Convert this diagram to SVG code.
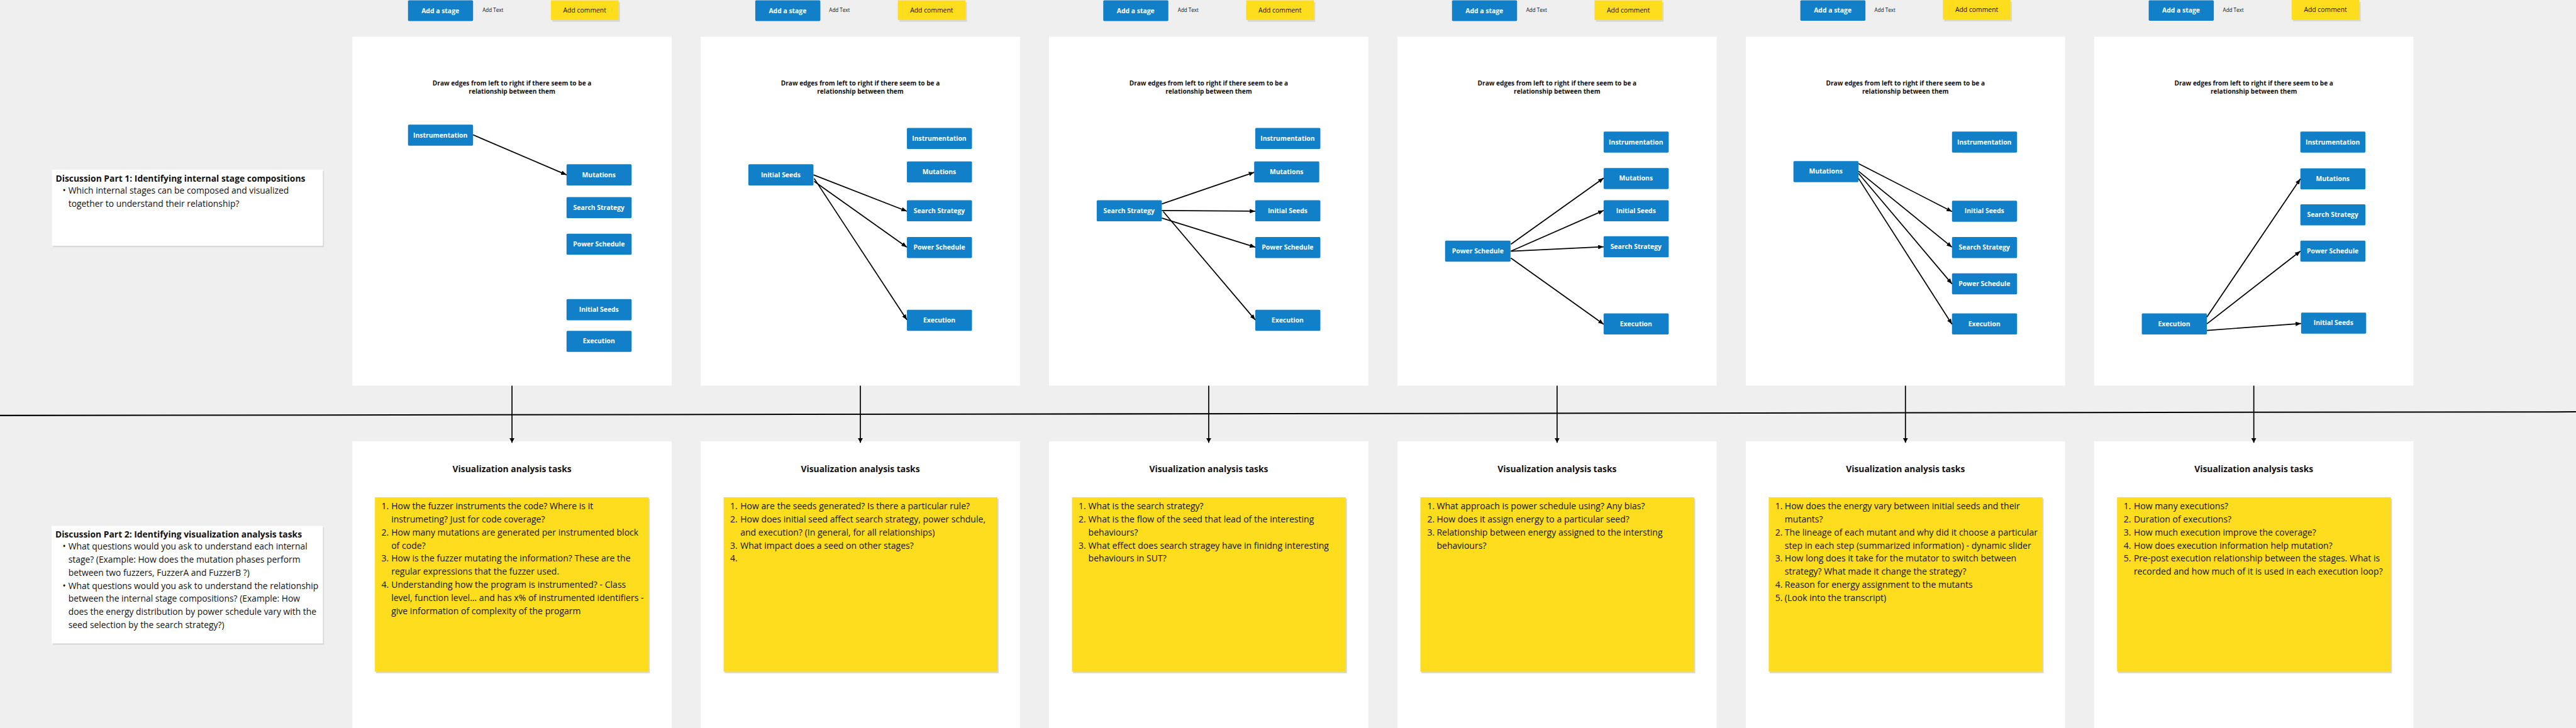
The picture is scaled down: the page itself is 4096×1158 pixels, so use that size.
<svg xmlns="http://www.w3.org/2000/svg" width="4096" height="1158" viewBox="0 0 4096 1158">
<defs>
<style>
text{font-family:'Open Sans','Noto Sans',sans-serif;fill:#111}
.bg{fill:#efefef}
.panel{fill:#ffffff}
.node rect,.btn{fill:#1180c9}
.node text,.btnt{fill:#fff;font-weight:700;font-size:18px;text-anchor:middle}
.cmt{fill:#fedd1f}
.shd{fill:#d8d8d8}
.cmtt{font-size:18px;text-anchor:middle}
.addt{font-size:14px}
.hint{font-size:17.5px;font-weight:700;text-anchor:middle}
.vt{font-size:24px;font-weight:700;text-anchor:middle}
.body{font-size:24px}
.sb{font-size:24.3px}
.dtitle{font-size:24px;font-weight:700}
.sticky{fill:#fedd1f}
.card{fill:#ffffff}
.edge{stroke:#000;stroke-width:3;fill:none;marker-end:url(#ah)}
.down{stroke:#000;stroke-width:3;fill:none;marker-end:url(#ahd)}
</style>
<marker id="ah" markerUnits="userSpaceOnUse" markerWidth="16" markerHeight="12" refX="15" refY="6" orient="auto"><path d="M0,0 L15,6 L0,12 z" fill="#000"/></marker>
<marker id="ahd" markerUnits="userSpaceOnUse" markerWidth="14" markerHeight="14" refX="13" refY="7" orient="auto"><path d="M0,0 L13,7 L0,14 z" fill="#000"/></marker>
</defs>
<rect class="bg" x="0" y="0" width="4096" height="1158"/>
<g transform="scale(0.5782)">

<!-- discussion cards -->
<g id="discussion1">
<rect class="shd" x="146" y="471" width="745" height="209"/>
<rect class="card" x="143" y="467" width="745" height="209"/>
<text class="dtitle" x="153" y="499">Discussion Part 1: Identifying internal stage compositions</text>
<text class="body"><tspan x="172" y="533">•</tspan><tspan x="188" y="533">Which internal stages can be composed and visualized</tspan><tspan x="188" y="569">together to understand their relationship?</tspan></text>
</g>
<g id="discussion2">
<rect class="shd" x="145" y="1451" width="746" height="323"/>
<rect class="card" x="142" y="1447" width="746" height="323"/>
<text class="dtitle" x="152" y="1478">Discussion Part 2: Identifying visualization analysis tasks</text>
<text class="body"><tspan x="172" y="1512">•</tspan><tspan x="188" y="1512">What questions would you ask to understand each internal</tspan><tspan x="188" y="1548">stage? (Example: How does the mutation phases perform</tspan><tspan x="188" y="1584">between two fuzzers, FuzzerA and FuzzerB ?)</tspan><tspan x="172" y="1620">•</tspan><tspan x="188" y="1620">What questions would you ask to understand the relationship</tspan><tspan x="188" y="1656">between the internal stage compositions? (Example: How</tspan><tspan x="188" y="1692">does the energy distribution by power schedule vary with the</tspan><tspan x="188" y="1728">seed selection by the search strategy?)</tspan></text>
</g>

<!-- panels -->
<g id="panels">
<rect class="panel" x="969" y="101" width="878" height="960"/>
<rect class="panel" x="1927" y="101" width="878" height="960"/>
<rect class="panel" x="2885" y="101" width="878" height="960"/>
<rect class="panel" x="3843" y="101" width="878" height="960"/>
<rect class="panel" x="4801" y="101" width="878" height="960"/>
<rect class="panel" x="5759" y="101" width="878" height="960"/>
<rect class="panel" x="969" y="1214" width="878" height="800"/>
<rect class="panel" x="1927" y="1214" width="878" height="800"/>
<rect class="panel" x="2885" y="1214" width="878" height="800"/>
<rect class="panel" x="3843" y="1214" width="878" height="800"/>
<rect class="panel" x="4801" y="1214" width="878" height="800"/>
<rect class="panel" x="5759" y="1214" width="878" height="800"/>
</g>

<!-- toolbar buttons -->
<g id="toolbar">
<g id="tb1"><rect class="btn" x="1122" y="1" width="179" height="57" rx="3"/><text class="btnt" x="1211" y="36">Add a stage</text><text class="addt" x="1327" y="33">Add Text</text><rect class="shd" x="1519" y="6" width="186" height="54"/><rect class="cmt" x="1515" y="1" width="186" height="54"/><text class="cmtt" x="1608" y="34">Add comment</text></g>
<g id="tb2"><rect class="btn" x="2077" y="1" width="179" height="57" rx="3"/><text class="btnt" x="2166" y="36">Add a stage</text><text class="addt" x="2280" y="33">Add Text</text><rect class="shd" x="2473" y="6" width="186" height="54"/><rect class="cmt" x="2469" y="1" width="186" height="54"/><text class="cmtt" x="2562" y="34">Add comment</text></g>
<g id="tb3"><rect class="btn" x="3034" y="1" width="179" height="57" rx="3"/><text class="btnt" x="3123" y="36">Add a stage</text><text class="addt" x="3239" y="33">Add Text</text><rect class="shd" x="3431" y="6" width="186" height="54"/><rect class="cmt" x="3427" y="1" width="186" height="54"/><text class="cmtt" x="3520" y="34">Add comment</text></g>
<g id="tb4"><rect class="btn" x="3993" y="1" width="179" height="57" rx="3"/><text class="btnt" x="4082" y="36">Add a stage</text><text class="addt" x="4197" y="33">Add Text</text><rect class="shd" x="4389" y="6" width="186" height="54"/><rect class="cmt" x="4385" y="1" width="186" height="54"/><text class="cmtt" x="4478" y="34">Add comment</text></g>
<g id="tb5"><rect class="btn" x="4951" y="1" width="179" height="56" rx="3"/><text class="btnt" x="5040" y="35">Add a stage</text><text class="addt" x="5155" y="32">Add Text</text><rect class="shd" x="5347" y="5" width="186" height="54"/><rect class="cmt" x="5343" y="0" width="186" height="54"/><text class="cmtt" x="5436" y="33">Add comment</text></g>
<g id="tb6"><rect class="btn" x="5909" y="1" width="179" height="56" rx="3"/><text class="btnt" x="5998" y="35">Add a stage</text><text class="addt" x="6113" y="32">Add Text</text><rect class="shd" x="6306" y="5" width="186" height="54"/><rect class="cmt" x="6302" y="0" width="186" height="54"/><text class="cmtt" x="6395" y="33">Add comment</text></g>
</g>

<!-- hints -->
<g id="hints">
<text class="hint" x="1408" y="235">Draw edges from left to right if there seem to be a<tspan x="1408" y="258">relationship between them</tspan></text>
<text class="hint" x="2366" y="235">Draw edges from left to right if there seem to be a<tspan x="2366" y="258">relationship between them</tspan></text>
<text class="hint" x="3324" y="235">Draw edges from left to right if there seem to be a<tspan x="3324" y="258">relationship between them</tspan></text>
<text class="hint" x="4282" y="235">Draw edges from left to right if there seem to be a<tspan x="4282" y="258">relationship between them</tspan></text>
<text class="hint" x="5240" y="235">Draw edges from left to right if there seem to be a<tspan x="5240" y="258">relationship between them</tspan></text>
<text class="hint" x="6198" y="235">Draw edges from left to right if there seem to be a<tspan x="6198" y="258">relationship between them</tspan></text>
</g>

<!-- panel 1 nodes -->
<g id="p1-instrumentation" class="node"><rect x="1122" y="343" width="179" height="58" rx="3"/><text x="1211" y="378">Instrumentation</text></g>
<g id="p1-mutations" class="node"><rect x="1558" y="452" width="179" height="58" rx="3"/><text x="1647" y="487">Mutations</text></g>
<g id="p1-search" class="node"><rect x="1558" y="542" width="179" height="58" rx="3"/><text x="1647" y="577">Search Strategy</text></g>
<g id="p1-power" class="node"><rect x="1558" y="643" width="179" height="58" rx="3"/><text x="1647" y="678">Power Schedule</text></g>
<g id="p1-seeds" class="node"><rect x="1558" y="823" width="179" height="58" rx="3"/><text x="1647" y="858">Initial Seeds</text></g>
<g id="p1-execution" class="node"><rect x="1558" y="910" width="179" height="58" rx="3"/><text x="1647" y="945">Execution</text></g>

<!-- panel 2 nodes -->
<g id="p2-seeds" class="node"><rect x="2058" y="452" width="179" height="58" rx="3"/><text x="2147" y="487">Initial Seeds</text></g>
<g id="p2-instrumentation" class="node"><rect x="2494" y="352" width="179" height="58" rx="3"/><text x="2583" y="387">Instrumentation</text></g>
<g id="p2-mutations" class="node"><rect x="2494" y="444" width="179" height="58" rx="3"/><text x="2583" y="479">Mutations</text></g>
<g id="p2-search" class="node"><rect x="2494" y="551" width="179" height="58" rx="3"/><text x="2583" y="586">Search Strategy</text></g>
<g id="p2-power" class="node"><rect x="2494" y="652" width="179" height="58" rx="3"/><text x="2583" y="687">Power Schedule</text></g>
<g id="p2-execution" class="node"><rect x="2494" y="852" width="179" height="58" rx="3"/><text x="2583" y="887">Execution</text></g>

<!-- panel 3 nodes -->
<g id="p3-search" class="node"><rect x="3016" y="551" width="179" height="58" rx="3"/><text x="3105" y="586">Search Strategy</text></g>
<g id="p3-instrumentation" class="node"><rect x="3452" y="352" width="179" height="58" rx="3"/><text x="3541" y="387">Instrumentation</text></g>
<g id="p3-mutations" class="node"><rect x="3449" y="444" width="179" height="58" rx="3"/><text x="3538" y="479">Mutations</text></g>
<g id="p3-seeds" class="node"><rect x="3452" y="551" width="179" height="58" rx="3"/><text x="3541" y="586">Initial Seeds</text></g>
<g id="p3-power" class="node"><rect x="3452" y="652" width="179" height="58" rx="3"/><text x="3541" y="687">Power Schedule</text></g>
<g id="p3-execution" class="node"><rect x="3452" y="852" width="179" height="58" rx="3"/><text x="3541" y="887">Execution</text></g>

<!-- panel 4 nodes -->
<g id="p4-power" class="node"><rect x="3974" y="662" width="180" height="58" rx="3"/><text x="4064" y="697">Power Schedule</text></g>
<g id="p4-instrumentation" class="node"><rect x="4410" y="362" width="179" height="58" rx="3"/><text x="4499" y="397">Instrumentation</text></g>
<g id="p4-mutations" class="node"><rect x="4410" y="462" width="179" height="58" rx="3"/><text x="4499" y="497">Mutations</text></g>
<g id="p4-seeds" class="node"><rect x="4410" y="551" width="179" height="58" rx="3"/><text x="4499" y="586">Initial Seeds</text></g>
<g id="p4-search" class="node"><rect x="4410" y="650" width="179" height="58" rx="3"/><text x="4499" y="685">Search Strategy</text></g>
<g id="p4-execution" class="node"><rect x="4410" y="862" width="179" height="58" rx="3"/><text x="4499" y="897">Execution</text></g>

<!-- panel 5 nodes -->
<g id="p5-mutations" class="node"><rect x="4932" y="443" width="179" height="58" rx="3"/><text x="5021" y="478">Mutations</text></g>
<g id="p5-instrumentation" class="node"><rect x="5368" y="362" width="179" height="58" rx="3"/><text x="5457" y="397">Instrumentation</text></g>
<g id="p5-seeds" class="node"><rect x="5368" y="552" width="179" height="58" rx="3"/><text x="5457" y="587">Initial Seeds</text></g>
<g id="p5-search" class="node"><rect x="5368" y="652" width="179" height="58" rx="3"/><text x="5457" y="687">Search Strategy</text></g>
<g id="p5-power" class="node"><rect x="5368" y="752" width="179" height="58" rx="3"/><text x="5457" y="787">Power Schedule</text></g>
<g id="p5-execution" class="node"><rect x="5368" y="862" width="179" height="58" rx="3"/><text x="5457" y="897">Execution</text></g>

<!-- panel 6 nodes -->
<g id="p6-execution" class="node"><rect x="5890" y="862" width="179" height="58" rx="3"/><text x="5979" y="897">Execution</text></g>
<g id="p6-instrumentation" class="node"><rect x="6326" y="362" width="179" height="58" rx="3"/><text x="6415" y="397">Instrumentation</text></g>
<g id="p6-mutations" class="node"><rect x="6326" y="463" width="179" height="58" rx="3"/><text x="6415" y="498">Mutations</text></g>
<g id="p6-search" class="node"><rect x="6326" y="562" width="179" height="58" rx="3"/><text x="6415" y="597">Search Strategy</text></g>
<g id="p6-power" class="node"><rect x="6326" y="662" width="179" height="58" rx="3"/><text x="6415" y="697">Power Schedule</text></g>
<g id="p6-seeds" class="node"><rect x="6328" y="860" width="179" height="58" rx="3"/><text x="6417" y="895">Initial Seeds</text></g>

<!-- task cards -->
<g id="tasks1">
<text class="vt" x="1408" y="1299">Visualization analysis tasks</text>
<rect class="shd" x="1034" y="1372" width="753" height="480"/>
<rect class="sticky" x="1031" y="1368" width="753" height="480"/>
<text class="sb"><tspan x="1049" y="1401">1.</tspan><tspan x="1076" y="1401">How the fuzzer instruments the code? Where is it</tspan><tspan x="1076" y="1437">instrumeting? Just for code coverage?</tspan><tspan x="1049" y="1473">2.</tspan><tspan x="1076" y="1473">How many mutations are generated per instrumented block</tspan><tspan x="1076" y="1509">of code?</tspan><tspan x="1049" y="1545">3.</tspan><tspan x="1076" y="1545">How is the fuzzer mutating the information? These are the</tspan><tspan x="1076" y="1581">regular expressions that the fuzzer used.</tspan><tspan x="1049" y="1617">4.</tspan><tspan x="1076" y="1617">Understanding how the program is instrumented? - Class</tspan><tspan x="1076" y="1653">level, function level... and has x% of instrumented identifiers -</tspan><tspan x="1076" y="1689">give information of complexity of the progarm</tspan></text>
</g>
<g id="tasks2">
<text class="vt" x="2366" y="1299">Visualization analysis tasks</text>
<rect class="shd" x="1993" y="1372" width="753" height="480"/>
<rect class="sticky" x="1990" y="1368" width="753" height="480"/>
<text class="sb"><tspan x="2008" y="1401">1.</tspan><tspan x="2036" y="1401">How are the seeds generated? Is there a particular rule?</tspan><tspan x="2008" y="1437">2.</tspan><tspan x="2036" y="1437">How does initial seed affect search strategy, power schdule,</tspan><tspan x="2036" y="1473">and execution? (In general, for all relationships)</tspan><tspan x="2008" y="1509">3.</tspan><tspan x="2036" y="1509">What impact does a seed on other stages?</tspan><tspan x="2008" y="1545">4.</tspan></text>
</g>
<g id="tasks3">
<text class="vt" x="3324" y="1299">Visualization analysis tasks</text>
<rect class="shd" x="2951" y="1372" width="753" height="480"/>
<rect class="sticky" x="2948" y="1368" width="753" height="480"/>
<text class="sb"><tspan x="2966" y="1401">1.</tspan><tspan x="2993" y="1401">What is the search strategy?</tspan><tspan x="2966" y="1437">2.</tspan><tspan x="2993" y="1437">What is the flow of the seed that lead of the interesting</tspan><tspan x="2993" y="1473">behaviours?</tspan><tspan x="2966" y="1509">3.</tspan><tspan x="2993" y="1509">What effect does search stragey have in finidng interesting</tspan><tspan x="2993" y="1545">behaviours in SUT?</tspan></text>
</g>
<g id="tasks4">
<text class="vt" x="4282" y="1299">Visualization analysis tasks</text>
<rect class="shd" x="3909" y="1372" width="753" height="480"/>
<rect class="sticky" x="3906" y="1368" width="753" height="480"/>
<text class="sb"><tspan x="3925" y="1401">1.</tspan><tspan x="3951" y="1401">What approach is power schedule using? Any bias?</tspan><tspan x="3925" y="1437">2.</tspan><tspan x="3951" y="1437">How does it assign energy to a particular seed?</tspan><tspan x="3925" y="1473">3.</tspan><tspan x="3951" y="1473">Relationship between energy assigned to the intersting</tspan><tspan x="3951" y="1509">behaviours?</tspan></text>
</g>
<g id="tasks5">
<text class="vt" x="5240" y="1299">Visualization analysis tasks</text>
<rect class="shd" x="4867" y="1372" width="753" height="480"/>
<rect class="sticky" x="4864" y="1368" width="753" height="480"/>
<text class="sb"><tspan x="4882" y="1401">1.</tspan><tspan x="4908" y="1401">How does the energy vary between initial seeds and their</tspan><tspan x="4908" y="1437">mutants?</tspan><tspan x="4882" y="1473">2.</tspan><tspan x="4908" y="1473">The lineage of each mutant and why did it choose a particular</tspan><tspan x="4908" y="1509">step in each step (summarized information) - dynamic slider</tspan><tspan x="4882" y="1545">3.</tspan><tspan x="4908" y="1545">How long does it take for the mutator to switch between</tspan><tspan x="4908" y="1581">strategy? What made it change the strategy?</tspan><tspan x="4882" y="1617">4.</tspan><tspan x="4908" y="1617">Reason for energy assignment to the mutants</tspan><tspan x="4882" y="1653">5.</tspan><tspan x="4908" y="1653">(Look into the transcript)</tspan></text>
</g>
<g id="tasks6">
<text class="vt" x="6198" y="1299">Visualization analysis tasks</text>
<rect class="shd" x="5825" y="1372" width="753" height="480"/>
<rect class="sticky" x="5822" y="1368" width="753" height="480"/>
<text class="sb"><tspan x="5840" y="1401">1.</tspan><tspan x="5868" y="1401">How many executions?</tspan><tspan x="5840" y="1437">2.</tspan><tspan x="5868" y="1437">Duration of executions?</tspan><tspan x="5840" y="1473">3.</tspan><tspan x="5868" y="1473">How much execution improve the coverage?</tspan><tspan x="5840" y="1509">4.</tspan><tspan x="5868" y="1509">How does execution information help mutation?</tspan><tspan x="5840" y="1545">5.</tspan><tspan x="5868" y="1545">Pre-post execution relationship between the stages. What is</tspan><tspan x="5868" y="1581">recorded and how much of it is used in each execution loop?</tspan></text>
</g>

<!-- connectors -->
<g id="connectors">
<line x1="0" y1="1143" x2="7084" y2="1133" stroke="#000" stroke-width="3.5"/>
<line class="down" x1="1408" y1="1061" x2="1408" y2="1218"/>
<line class="down" x1="2366" y1="1061" x2="2366" y2="1218"/>
<line class="down" x1="3324" y1="1061" x2="3324" y2="1218"/>
<line class="down" x1="4282" y1="1061" x2="4282" y2="1218"/>
<line class="down" x1="5240" y1="1061" x2="5240" y2="1218"/>
<line class="down" x1="6198" y1="1061" x2="6198" y2="1218"/>
<line class="edge" x1="1301" y1="371" x2="1558" y2="481"/>
<line class="edge" x1="2237" y1="481" x2="2494" y2="581"/>
<line class="edge" x1="2239" y1="499" x2="2494" y2="680"/>
<line class="edge" x1="2239" y1="491" x2="2494" y2="880"/>
<line class="edge" x1="3195" y1="561" x2="3449" y2="474"/>
<line class="edge" x1="3195" y1="579" x2="3452" y2="581"/>
<line class="edge" x1="3195" y1="600" x2="3452" y2="680"/>
<line class="edge" x1="3199" y1="582" x2="3452" y2="880"/>
<line class="edge" x1="4155" y1="672" x2="4410" y2="490"/>
<line class="edge" x1="4155" y1="691" x2="4410" y2="579"/>
<line class="edge" x1="4155" y1="691" x2="4410" y2="679"/>
<line class="edge" x1="4155" y1="710" x2="4410" y2="892"/>
<line class="edge" x1="5111" y1="450" x2="5368" y2="582"/>
<line class="edge" x1="5111" y1="471" x2="5368" y2="680"/>
<line class="edge" x1="5111" y1="477" x2="5368" y2="781"/>
<line class="edge" x1="5111" y1="491" x2="5368" y2="892"/>
<line class="edge" x1="6069" y1="872" x2="6326" y2="492"/>
<line class="edge" x1="6069" y1="891" x2="6326" y2="691"/>
<line class="edge" x1="6069" y1="909" x2="6328" y2="890"/>
</g>
</g>
</svg>
